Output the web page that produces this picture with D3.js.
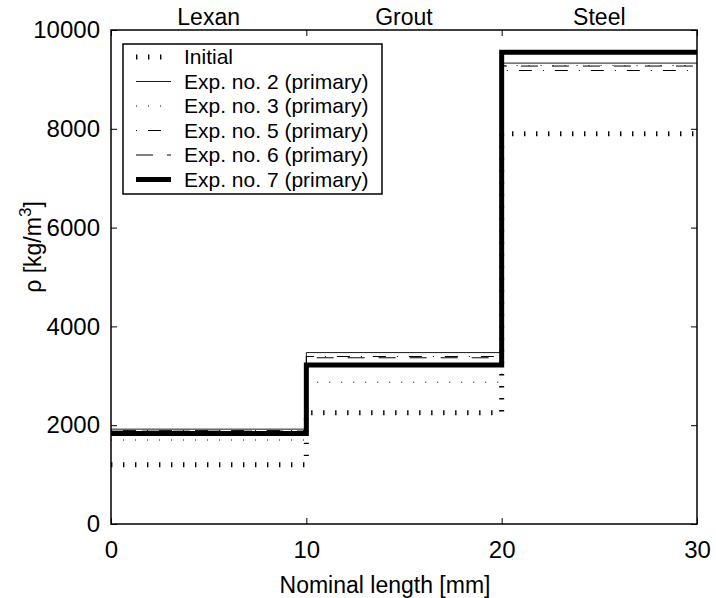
<!DOCTYPE html>
<html>
<head>
<meta charset="utf-8">
<script src="https://cdn.jsdelivr.net/npm/d3@7"></script>
<style>
  html, body { margin: 0; padding: 0; background: #fff; }
  svg text { font-family: "Liberation Sans", Arial, Helvetica, sans-serif; fill: #000; }
</style>
</head>
<body>
<svg id="chart" width="716" height="598"></svg>
<script>
// Layer boundaries along the specimen (mm) and material names
const boundaries = [0, 10, 20, 30];
const materials = ["Lexan", "Grout", "Steel"];

// Density per layer [kg/m^3]
const initial = [1200, 2250, 7900];
const exp2 = [1920, 3470, 9330];
const exp3 = [1700, 2870, 9280];
const exp5 = [1890, 3390, 9180];
const exp6 = [1880, 3365, 9270];
const exp7 = [1830, 3220, 9550];

const seriesNames = [
  "Initial",
  "Exp. no. 2 (primary)",
  "Exp. no. 3 (primary)",
  "Exp. no. 5 (primary)",
  "Exp. no. 6 (primary)",
  "Exp. no. 7 (primary)"
];

const xTicks = [0, 10, 20, 30];
const yTicks = [0, 2000, 4000, 6000, 8000, 10000];

const styles = [
  { width: 5, dash: "1.4 10.6", offset: 0 },
  { width: 0.9, dash: null, offset: 0 },
  { width: 1, dash: "1 11", offset: 0 },
  { width: 1, dash: "13 11 1 11", offset: 24 },
  { width: 1, dash: "17 14", offset: 0 },
  { width: 5, dash: null, offset: 0 }
];

const seriesValues = [initial, exp2, exp3, exp5, exp6, exp7];

const svg = d3.select("#chart");
const margin = { left: 111, top: 30, right: 19, bottom: 74 };
const W = 716 - margin.left - margin.right;
const H = 598 - margin.top - margin.bottom;

const x = d3.scaleLinear().domain([0, 30]).range([0, W]);
const y = d3.scaleLinear().domain([0, 10000]).range([H, 0]);

const g = svg.append("g").attr("transform", `translate(${margin.left},${margin.top})`);

svg.append("defs").append("clipPath").attr("id", "plotClip")
  .append("rect").attr("x", 0).attr("y", 0).attr("width", W).attr("height", H);

// Step profile: one level per layer, held to the far boundary
function stepPoints(vals) {
  const pts = vals.map((v, i) => ({ x: boundaries[i], v }));
  pts.push({ x: boundaries[boundaries.length - 1], v: vals[vals.length - 1] });
  return pts;
}

const line = d3.line()
  .x(d => x(d.x))
  .y(d => y(d.v))
  .curve(d3.curveStepAfter);

const plot = g.append("g").attr("clip-path", "url(#plotClip)");
seriesValues.forEach((vals, i) => {
  const s = styles[i];
  plot.append("path")
    .datum(stepPoints(vals))
    .attr("d", line)
    .attr("fill", "none")
    .attr("stroke", "#000")
    .attr("stroke-width", s.width)
    .attr("stroke-dasharray", s.dash)
    .attr("stroke-dashoffset", s.offset)
    .attr("stroke-linejoin", "miter")
    .attr("stroke-linecap", "butt");
});

// Axes with inward ticks on all four sides
const tickLen = 6;
const axisFont = 24;

const xAxisB = d3.axisBottom(x).tickValues(xTicks).tickSize(-tickLen).tickPadding(tickLen + 11).tickFormat(d3.format("d"));
const xAxisT = d3.axisTop(x).tickValues(xTicks).tickSize(-tickLen).tickFormat("");
const yAxisL = d3.axisLeft(y).tickValues(yTicks).tickSize(-tickLen).tickPadding(tickLen + 5).tickFormat(d3.format("d"));
const yAxisR = d3.axisRight(y).tickValues(yTicks).tickSize(-tickLen).tickFormat("");

function styleAxis(sel) {
  sel.select(".domain").remove();
  sel.selectAll(".tick line").attr("stroke", "#000").attr("stroke-width", 1);
  sel.selectAll(".tick text").attr("font-size", axisFont).style("font-family", "'Liberation Sans', Arial, sans-serif");
}

g.append("g").attr("transform", `translate(0,${H})`).call(xAxisB).call(styleAxis);
g.append("g").call(xAxisT).call(styleAxis);
g.append("g").call(yAxisL).call(styleAxis);
g.append("g").attr("transform", `translate(${W},0)`).call(yAxisR).call(styleAxis);

// Plot frame
g.append("rect")
  .attr("x", 0).attr("y", 0).attr("width", W).attr("height", H)
  .attr("fill", "none").attr("stroke", "#000").attr("stroke-width", 1.5);

// Material names above each layer
materials.forEach((m, i) => {
  g.append("text")
    .attr("x", x((boundaries[i] + boundaries[i + 1]) / 2))
    .attr("y", -5)
    .attr("text-anchor", "middle")
    .attr("font-size", 23)
    .text(m);
});

// Axis titles
g.append("text")
  .attr("x", W / 2 - 19)
  .attr("y", H + 69)
  .attr("text-anchor", "middle")
  .attr("font-size", 23)
  .text("Nominal length [mm]");

const yLab = svg.append("text")
  .attr("transform", `translate(41,${margin.top + H / 2 - 30}) rotate(-90)`)
  .attr("text-anchor", "middle")
  .attr("font-size", 23);
yLab.append("tspan").text("ρ [kg/m");
yLab.append("tspan").attr("dy", -10).attr("font-size", 17).text("3");
yLab.append("tspan").attr("dy", 10).text("]");

// Legend
const lg = g.append("g").attr("transform", "translate(12,14)");
const lgW = 259, lgH = 150, rowH = 24.5;
lg.append("rect")
  .attr("width", lgW).attr("height", lgH)
  .attr("fill", "#fff").attr("stroke", "#000").attr("stroke-width", 1.5);

seriesNames.forEach((name, i) => {
  const s = styles[i];
  const ry = 13 + i * rowH;
  lg.append("line")
    .attr("x1", 13).attr("x2", 48)
    .attr("y1", ry).attr("y2", ry)
    .attr("stroke", "#000")
    .attr("stroke-width", s.width)
    .attr("stroke-dasharray", s.dash)
    .attr("stroke-dashoffset", s.offset);
  lg.append("text")
    .attr("x", 61).attr("y", ry)
    .attr("dy", "0.35em")
    .attr("font-size", 21)
    .text(name);
});
</script>
</body>
</html>
